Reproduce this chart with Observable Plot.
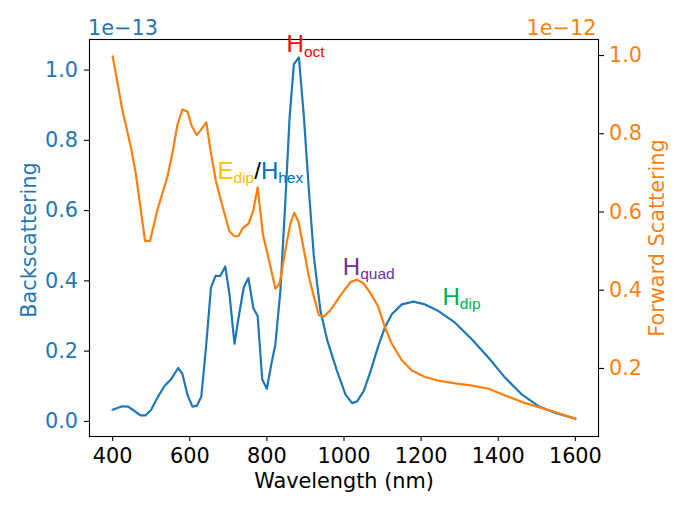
<!DOCTYPE html>
<html><head><meta charset="utf-8">
<script src="https://cdn.jsdelivr.net/npm/d3@7"></script>
<script src="https://cdn.jsdelivr.net/npm/@observablehq/plot@0.6"></script>
<style>
html,body{margin:0;padding:0;background:#fff;}
#chart{position:relative;width:682px;height:509px;}
#chart svg{position:absolute;left:0;top:0;}
</style></head><body><div id="chart"></div>
<script>
// Backscattering (units of 1e-13)
const wavelengthsBack = [400,425,440,455,472,485,500,516,534,551,570,581,594,607,619,630,642,655,667,679,692,703,716,728,740,752,765,776,788,800,811,822,835,848,859,870,883,896,909,922,939,957,982,1004,1021,1034,1051,1069,1089,1106,1124,1150,1180,1210,1245,1288,1332,1375,1418,1462,1505,1549,1600];
const backscattering = [0.033,0.043,0.042,0.031,0.017,0.017,0.033,0.067,0.100,0.119,0.152,0.135,0.076,0.042,0.045,0.071,0.209,0.381,0.414,0.414,0.441,0.362,0.221,0.305,0.381,0.408,0.322,0.300,0.119,0.093,0.160,0.219,0.371,0.629,0.867,1.017,1.036,0.867,0.657,0.467,0.314,0.229,0.143,0.076,0.052,0.057,0.086,0.143,0.215,0.267,0.305,0.333,0.341,0.333,0.314,0.281,0.233,0.181,0.124,0.076,0.043,0.024,0.008];

// Forward scattering (units of 1e-12)
const wavelengthsFwd = [400,425,447,460,473,484,497,516,542,555,568,581,594,605,618,629,643,655,668,685,703,716,726,737,753,765,776,790,807,822,833,848,861,871,882,896,909,922,935,948,965,991,1017,1034,1051,1069,1089,1106,1124,1150,1176,1210,1245,1288,1332,1375,1418,1462,1505,1549,1600];
const forwardScattering = [0.998,0.862,0.767,0.699,0.605,0.526,0.526,0.605,0.690,0.750,0.823,0.862,0.857,0.820,0.797,0.810,0.829,0.750,0.678,0.614,0.550,0.538,0.538,0.558,0.571,0.605,0.663,0.541,0.470,0.404,0.417,0.503,0.571,0.598,0.575,0.503,0.434,0.383,0.336,0.333,0.349,0.387,0.421,0.427,0.417,0.392,0.357,0.306,0.263,0.221,0.195,0.178,0.169,0.162,0.156,0.148,0.131,0.114,0.101,0.088,0.071];

const xTicks = [400,600,800,1000,1200,1400,1600];
const leftTicks = [0.0,0.2,0.4,0.6,0.8,1.0];
const rightTicks = [0.2,0.4,0.6,0.8,1.0];

// Mode annotations (position in wavelength / backscattering units)
const annoX = [851, 672, 997, 1255.5];
const annoY = [1.072, 0.713, 0.439, 0.354];
const annoParts = [
  [["H","#FF0000",false],["oct","#FF0000",true]],
  [["E","#FFC000",false],["dip","#FFC000",true],["/","#000000",false],["H","#0070C0",false],["hex","#0070C0",true]],
  [["H","#7030A0",false],["quad","#7030A0",true]],
  [["H","#00B050",false],["dip","#00B050",true]]
];

const blue = "#1f77b4", orange = "#ff7f0e";
const FS = 20.8;
const backData = wavelengthsBack.map((w,i)=>({w, v: backscattering[i]}));
const fwdData = wavelengthsFwd.map((w,i)=>({w, v: forwardScattering[i]}));
const annoText = annoParts.map(p => p.map(q => q[0]).join(""));
const annoIdx = annoParts.map((p,i)=>i);

const common = {
  width: 682, height: 509,
  marginLeft: 89, marginRight: 84, marginTop: 39, marginBottom: 73,
  style: {fontFamily: "DejaVu Sans", fontSize: FS + "px", background: "transparent", overflow: "visible"}
};

const svg1 = Plot.plot({
  ...common,
  x: {domain: [340, 1660]},
  y: {domain: [-0.043, 1.087]},
  marks: [
    Plot.line(backData, {x: "w", y: "v", stroke: blue, strokeWidth: 2.2}),
    Plot.axisX({ticks: xTicks, tickFormat: "d", tickSize: 5, tickPadding: 7.2, stroke: "black", fill: "black", strokeWidth: 1.1, fontSize: FS, label: null}),
    Plot.axisY({ticks: leftTicks, tickFormat: ".1f", tickSize: 5, tickPadding: 6.5, stroke: "black", fill: blue, strokeWidth: 1.1, fontSize: FS, label: null}),
    Plot.frame({stroke: "black", strokeWidth: 1.1}),
    Plot.text(["Backscattering"], {frameAnchor: "left", text: d=>d, rotate: -90, dx: -59.7, dy: 2, fill: blue, fontSize: FS, textAnchor: "middle", lineAnchor: "middle"}),
    Plot.text(["1e\u221213"], {frameAnchor: "top-left", text: d=>d, textAnchor: "start", lineAnchor: "middle", dx: -1.5, dy: -11.5, fill: blue, fontSize: FS}),
    Plot.text(["Wavelength (nm)"], {frameAnchor: "bottom", text: d=>d, textAnchor: "middle", lineAnchor: "middle", dy: 45.3, fill: "black", fontSize: FS}),
    Plot.text(annoIdx, {x: i=>annoX[i], y: i=>annoY[i], text: i=>annoText[i], textAnchor: "start", lineAnchor: "middle", fontSize: 24, fontFamily: "Liberation Sans", fill: "black"})
  ]
});

const svg2 = Plot.plot({
  ...common,
  x: {domain: [340, 1660], axis: null},
  y: {domain: [0.026, 1.041]},
  marks: [
    Plot.line(fwdData, {x: "w", y: "v", stroke: orange, strokeWidth: 2.2}),
    Plot.axisY({anchor: "right", ticks: rightTicks, tickFormat: ".1f", tickSize: 5, tickPadding: 5.5, stroke: "black", fill: orange, strokeWidth: 1.1, fontSize: FS, label: null}),
    Plot.text(["Forward Scattering"], {frameAnchor: "right", text: d=>d, rotate: -90, dx: 59.3, dy: 0, fill: orange, fontSize: FS, textAnchor: "middle", lineAnchor: "middle"}),
    Plot.text(["1e\u221212"], {frameAnchor: "top-right", text: d=>d, textAnchor: "end", lineAnchor: "middle", dx: -2, dy: -11.5, fill: orange, fontSize: FS})
  ]
});

// Rich text (subscripts) for annotations
svg1.querySelectorAll("text").forEach(node => {
  const j = annoText.indexOf(node.textContent);
  if (j < 0) return;
  const el = d3.select(node);
  el.text("");
  let shift = 0;
  annoParts[j].forEach(([t, c, sub]) => {
    const target = sub ? 4.5 : 0;
    const ts = el.append("tspan").attr("fill", c).attr("font-size", sub ? 15.5 : 24).text(t);
    if (target !== shift) ts.attr("dy", target - shift);
    shift = target;
  });
});

const chart = document.getElementById("chart");
chart.appendChild(svg1);
chart.appendChild(svg2);
</script>
</body></html>
